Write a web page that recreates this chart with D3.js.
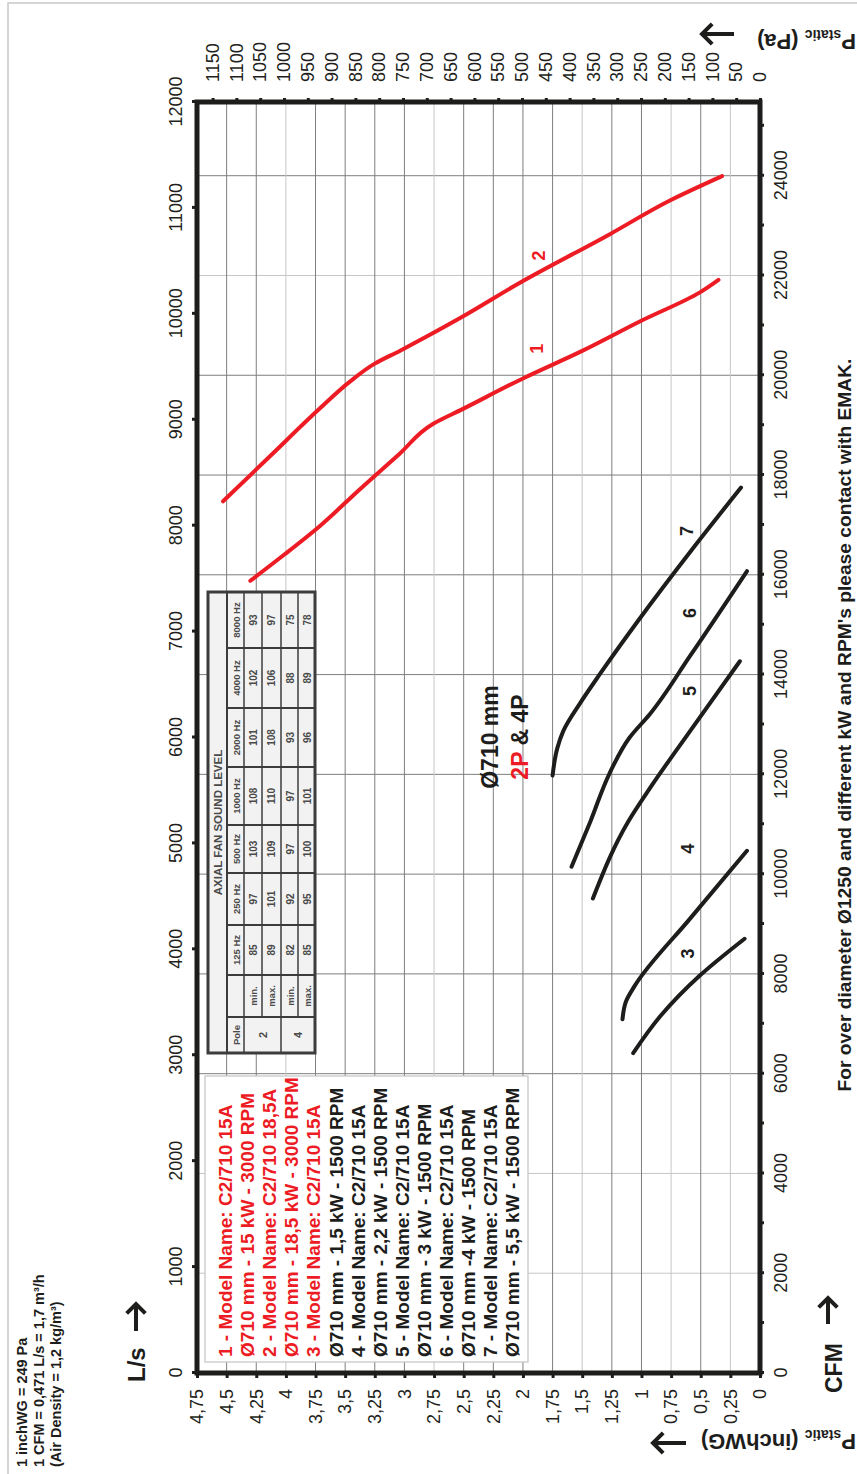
<!DOCTYPE html>
<html>
<head>
<meta charset="utf-8">
<script src="https://cdn.jsdelivr.net/npm/d3@7"></script>
<style>
  body { margin: 0; background: #fff; }
  svg { display: block; }
  text { font-family: "Liberation Sans", Arial, Helvetica, sans-serif; }
</style>
</head>
<body>
<div id="chart"></div>
<script>
// ---- data (flow in L/s, static pressure in inchWG) ----
const lsTicks = [0, 1000, 2000, 3000, 4000, 5000, 6000, 7000, 8000, 9000, 10000, 11000, 12000];
const cfmTicks = [0, 1000, 2000, 3000, 4000, 5000, 6000, 7000, 8000, 9000, 10000, 11000, 12000,
                  13000, 14000, 15000, 16000, 17000, 18000, 19000, 20000, 21000, 22000, 23000, 24000, 25000];
const cfmGrid = [2000, 4000, 6000, 8000, 10000, 12000, 14000, 16000, 18000, 20000, 22000, 24000];
const inchTicks = [0, 0.25, 0.5, 0.75, 1, 1.25, 1.5, 1.75, 2, 2.25, 2.5, 2.75, 3, 3.25, 3.5, 3.75, 4, 4.25, 4.5, 4.75];
const paTicks = [0, 50, 100, 150, 200, 250, 300, 350, 400, 450, 500, 550, 600, 650, 700, 750,
                 800, 850, 900, 950, 1000, 1050, 1100, 1150];

const curve1 = [[7480, 4.30], [7730, 4.01], [8000, 3.71], [8340, 3.38], [8680, 3.04], [8960, 2.76],
                [9100, 2.51], [9390, 2.00], [9650, 1.50], [9930, 1.01], [10200, 0.51], [10320, 0.35]];
const curve2 = [[8230, 4.53], [8660, 4.13], [9110, 3.71], [9360, 3.46], [9530, 3.25], [9650, 3.04],
                [9960, 2.53], [10310, 2.00], [10750, 1.27], [11070, 0.76], [11300, 0.32]];
const curve3 = [[3020, 1.07], [3370, 0.84], [3750, 0.51], [4100, 0.13]];
const curve4 = [[3340, 1.16], [3510, 1.13], [3650, 1.06], [4290, 0.59], [4930, 0.11]];
const curve5 = [[4480, 1.41], [5210, 1.11], [5520, 0.93], [6060, 0.59], [6720, 0.17]];
const curve6 = [[4780, 1.59], [5210, 1.43], [5660, 1.27], [6000, 1.10], [6220, 0.93], [6770, 0.59], [7570, 0.11]];
const curve7 = [[5640, 1.75], [5900, 1.71], [6060, 1.66], [6320, 1.52], [6600, 1.35], [7100, 1.03],
                [7780, 0.57], [8360, 0.16]];
const curves = [curve1, curve2, curve3, curve4, curve5, curve6, curve7];
const curveNames = ['1', '2', '3', '4', '5', '6', '7'];
const labelPos = [[9670, 1.88], [10550, 1.87], [3960, 0.61], [4950, 0.61], [6440, 0.59], [7175, 0.59], [7950, 0.62]];

const legendText = [
  '1 - Model Name: C2/710 15A',
  'Ø710 mm - 15 kW - 3000 RPM',
  '2 - Model Name: C2/710 18,5A',
  'Ø710 mm - 18,5 kW - 3000 RPM',
  '3 - Model Name: C2/710 15A',
  'Ø710 mm - 1,5 kW - 1500 RPM',
  '4 - Model Name: C2/710 15A',
  'Ø710 mm - 2,2 kW - 1500 RPM',
  '5 - Model Name: C2/710 15A',
  'Ø710 mm - 3 kW - 1500 RPM',
  '6 - Model Name: C2/710 15A',
  'Ø710 mm -4 kW - 1500 RPM',
  '7 - Model Name: C2/710 15A',
  'Ø710 mm - 5,5 kW - 1500 RPM'
];

const soundHeader = ['Pole', '', '125 Hz', '250 Hz', '500 Hz', '1000 Hz', '2000 Hz', '4000 Hz', '8000 Hz'];
const soundPoles = ['2', '4'];
const soundKind = ['min.', 'max.', 'min.', 'max.'];
const soundRows = [
  [85, 97, 103, 108, 101, 102, 93],
  [89, 101, 109, 110, 108, 106, 97],
  [82, 92, 97, 97, 93, 88, 75],
  [85, 95, 100, 101, 96, 89, 78]
];

const notes = ['1 inchWG = 249 Pa', '1 CFM = 0,471 L/s = 1,7 m³/h', '(Air Density = 1,2 kg/m³)'];

// ---- layout ----
const W = 857, H = 1474;
const RED = '#ed1c24', INK = '#1d1d1b', GRID = '#7e7e7e', GRID_LIGHT = '#c6c6c6';
const lightInch = [0.25, 0.75, 1.5, 2.75, 4];
const lightCfm = [2000, 4000, 22000];
const svg = d3.select('#chart').append('svg').attr('width', W).attr('height', H);

svg.append('rect').attr('x', 8).attr('y', 3).attr('width', 900).attr('height', 1500)
   .attr('fill', 'none').attr('stroke', '#c8c8c8').attr('stroke-width', 1.5);

// the whole chart is drawn upright and then turned a quarter to the left
const g = svg.append('g').attr('transform', `translate(0,${H}) rotate(-90)`);
const plot = { left: 101, right: 1372, top: 197, bottom: 760 };

const x = d3.scaleLinear().domain([0, 12000]).range([plot.left, plot.right]);
const xCfm = d3.scaleLinear().domain([0, 12000 / 0.471]).range([plot.left, plot.right]);
const y = d3.scaleLinear().domain([0, 4.75]).range([plot.bottom, plot.top]);
const yPa = d3.scaleLinear().domain([0, 4.75 * 249]).range([plot.bottom, plot.top]);
const comma = d => String(d).replace('.', ',');

// grid
g.append('g').selectAll('line').data(cfmGrid).join('line')
  .attr('x1', d => xCfm(d)).attr('x2', d => xCfm(d))
  .attr('y1', plot.top).attr('y2', plot.bottom)
  .attr('stroke', d => lightCfm.includes(d) ? GRID_LIGHT : GRID).attr('stroke-width', 1);
g.append('g').selectAll('line').data(inchTicks.slice(1, -1)).join('line')
  .attr('x1', plot.left).attr('x2', plot.right)
  .attr('y1', d => y(d)).attr('y2', d => y(d))
  .attr('stroke', d => lightInch.includes(d) ? GRID_LIGHT : GRID).attr('stroke-width', 1);

function styleAxis(sel) {
  sel.select('.domain').remove();
  sel.selectAll('.tick line').attr('stroke', INK).attr('stroke-width', 3);
  sel.selectAll('.tick text').attr('font-size', 18).attr('fill', '#231f20');
}

g.append('g').attr('transform', `translate(0,${plot.top})`)
  .call(d3.axisTop(x).tickValues(lsTicks).tickSize(5).tickPadding(10).tickFormat(d => d))
  .call(styleAxis);
g.append('g').attr('transform', `translate(0,${plot.bottom})`)
  .call(d3.axisBottom(xCfm).tickValues(cfmTicks).tickSize(4).tickPadding(10)
        .tickFormat(d => d % 2000 === 0 ? d : ''))
  .call(styleAxis);
g.append('g').attr('transform', `translate(${plot.left},0)`)
  .call(d3.axisLeft(y).tickValues(inchTicks).tickSize(5).tickPadding(11).tickFormat(comma))
  .call(styleAxis);
g.append('g').attr('transform', `translate(${plot.right},0)`)
  .call(d3.axisRight(yPa).tickValues(paTicks).tickSize(4).tickPadding(16).tickFormat(d => d))
  .call(styleAxis);

// sound level table
const colW = [36, 42, 50, 52, 48, 58, 59, 60, 56];
const rowH = [19, 17, 18, 19, 17, 17];
const t0 = { u: 421, v: 208 };
const colX = [t0.u];
colW.forEach(w => colX.push(colX[colX.length - 1] + w));
const rowY = [t0.v];
rowH.forEach(h => rowY.push(rowY[rowY.length - 1] + h));
const tbl = g.append('g');
const tW = colX[colX.length - 1] - t0.u, tH = rowY[rowY.length - 1] - t0.v;
const TBL = '#3c3c3c';
tbl.append('rect').attr('x', t0.u).attr('y', t0.v).attr('width', tW).attr('height', tH)
   .attr('fill', '#f2f2f2');
for (let r = 1; r < rowY.length - 1; r++) {
  const startCol = (r === 3 || r === 5) ? 1 : 0;
  tbl.append('line').attr('x1', colX[startCol]).attr('x2', colX[colX.length - 1])
     .attr('y1', rowY[r]).attr('y2', rowY[r]).attr('stroke', TBL).attr('stroke-width', r === 1 ? 2 : 1.5);
}
for (let c = 1; c < colX.length - 1; c++) {
  tbl.append('line').attr('x1', colX[c]).attr('x2', colX[c])
     .attr('y1', rowY[1]).attr('y2', rowY[rowY.length - 1]).attr('stroke', TBL).attr('stroke-width', 2);
}
tbl.append('rect').attr('x', t0.u).attr('y', t0.v).attr('width', tW).attr('height', tH)
   .attr('fill', 'none').attr('stroke', TBL).attr('stroke-width', 3);
const cellText = (sx, sy, s, size) => tbl.append('text').attr('x', sx).attr('y', sy)
   .attr('text-anchor', 'middle').attr('font-size', size).attr('font-weight', 'bold')
   .attr('fill', '#4a4a4a').text(s);
cellText(t0.u + tW / 2, rowY[0] + 14, 'AXIAL FAN SOUND LEVEL', 11.5);
soundHeader.forEach((h, i) => cellText(colX[i] + colW[i] / 2, rowY[1] + 12.5, h, 9.5));
soundPoles.forEach((p, i) => cellText(colX[0] + colW[0] / 2, (rowY[2 + 2 * i] + rowY[4 + 2 * i]) / 2 + 4, p, 11));
soundRows.forEach((row, r) => {
  cellText(colX[1] + colW[1] / 2, rowY[2 + r] + 12.5, soundKind[r], 9.5);
  row.forEach((v, c) => cellText(colX[c + 2] + colW[c + 2] / 2, rowY[2 + r] + 12.5, v, 10));
});

// legend box
const leg = g.append('g');
leg.append('rect').attr('x', 112).attr('y', 205).attr('width', 286).attr('height', 323)
   .attr('fill', '#fff').attr('stroke', '#c4c4c4').attr('stroke-width', 1.2);
leg.selectAll('text').data(legendText).join('text')
   .attr('x', 117).attr('y', (d, i) => 232 + i * 22.1)
   .attr('font-size', 19).attr('font-weight', 'bold')
   .attr('fill', (d, i) => i < 5 ? RED : INK)
   .text(d => d);

// curves
const line = d3.line().x(d => x(d[0])).y(d => y(d[1])).curve(d3.curveMonotoneX);
g.append('g').selectAll('path').data(curves).join('path')
  .attr('d', line).attr('fill', 'none')
  .attr('stroke', (d, i) => i < 2 ? RED : INK)
  .attr('stroke-width', 4).attr('stroke-linecap', 'round');
g.append('g').selectAll('text').data(labelPos).join('text')
  .attr('x', d => x(d[0])).attr('y', d => y(d[1])).attr('dy', '0.35em')
  .attr('text-anchor', 'middle').attr('font-size', 18).attr('font-weight', 'bold')
  .attr('fill', (d, i) => i < 2 ? RED : INK)
  .text((d, i) => curveNames[i]);

// plot frame
g.append('rect').attr('x', plot.left).attr('y', plot.top)
  .attr('width', plot.right - plot.left).attr('height', plot.bottom - plot.top)
  .attr('fill', 'none').attr('stroke', INK).attr('stroke-width', 5);

// titles
g.append('text').attr('x', 737).attr('y', 498).attr('text-anchor', 'middle')
  .attr('font-size', 23).attr('font-weight', 'bold').attr('fill', INK).text('Ø710 mm');
const sub = g.append('text').attr('x', 737).attr('y', 528).attr('text-anchor', 'middle')
  .attr('font-size', 23).attr('font-weight', 'bold').attr('fill', INK);
sub.append('tspan').attr('fill', RED).text('2P');
sub.append('tspan').text(' & 4P');

g.append('g').selectAll('text').data(notes).join('text')
  .attr('x', 7).attr('y', (d, i) => 27 + i * 17)
  .attr('font-size', 14.5).attr('font-weight', 'bold').attr('fill', INK)
  .text(d => d);

g.append('text').attr('x', 749).attr('y', 851).attr('text-anchor', 'middle')
  .attr('font-size', 19.2).attr('font-weight', 'bold').attr('fill', INK)
  .text("For over diameter Ø1250 and different kW and RPM's please contact with EMAK.");

function arrow(sel, x0, y0, x1, y1, head) {
  const a = Math.atan2(y1 - y0, x1 - x0);
  const p = d3.path();
  p.moveTo(x0, y0); p.lineTo(x1, y1);
  p.moveTo(x1 - head * Math.cos(a - Math.PI / 4) * 1.2, y1 - head * Math.sin(a - Math.PI / 4) * 1.2);
  p.lineTo(x1, y1);
  p.lineTo(x1 - head * Math.cos(a + Math.PI / 4) * 1.2, y1 - head * Math.sin(a + Math.PI / 4) * 1.2);
  sel.append('path').attr('d', p.toString()).attr('fill', 'none')
     .attr('stroke', INK).attr('stroke-width', 4).attr('stroke-linejoin', 'miter');
}

g.append('text').attr('x', 92).attr('y', 145).attr('font-size', 24).attr('font-weight', 'bold')
  .attr('fill', INK).text('L/s');
arrow(g, 143, 136, 170, 136, 11);
g.append('text').attr('x', 81).attr('y', 842).attr('font-size', 23).attr('font-weight', 'bold')
  .attr('fill', INK).text('CFM');
arrow(g, 150, 828, 176, 828, 11);

// pressure titles (upside down in the picture)
function pTitle(x0, y0, unit) {
  const t = svg.append('text').attr('transform', `translate(${x0},${y0}) rotate(180)`)
    .attr('font-size', 22).attr('font-weight', 'bold').attr('fill', INK);
  t.append('tspan').text('P');
  t.append('tspan').attr('font-size', 14).attr('dy', 4).text('static');
  t.append('tspan').attr('dy', -4).text(' ' + unit);
}
pTitle(856, 34, '(Pa)');
arrow(svg, 734, 34, 702, 34, 12);
pTitle(856, 1434, '(inchWG)');
arrow(svg, 686, 1443, 653, 1443, 12);
</script>
</body>
</html>
